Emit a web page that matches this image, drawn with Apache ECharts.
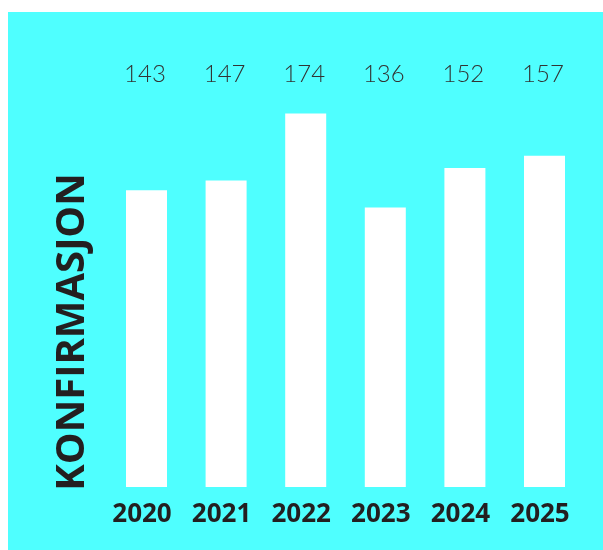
<!DOCTYPE html>
<html>
<head>
<meta charset="utf-8">
<script src="https://cdn.jsdelivr.net/npm/echarts@6/dist/echarts.min.js"></script>
<style>
html,body{margin:0;padding:0;background:#ffffff;}
#c{width:603px;height:550px;}
</style>
</head>
<body>
<div id="c"></div>
<script>
const years = ['2020', '2021', '2022', '2023', '2024', '2025'];
const values = [143, 147, 174, 136, 152, 157];
const valueLabels = ['143', '147', '174', '136', '152', '157'];
const axisTitle = 'KONFIRMASJON';

const chart = echarts.init(document.getElementById('c'));
chart.setOption({
  backgroundColor: '#ffffff',
  animation: false,
  graphic: [
    { type: 'rect', z: -10, shape: { x: 8, y: 12, width: 595, height: 538 }, style: { fill: '#4fffff' } },
    { type: 'text', x: 73, y: 332, rotation: Math.PI / 2, z: 10,
      style: { text: axisTitle, fill: '#231f20', font: 'bold 40px "Open Sans"', align: 'center', verticalAlign: 'middle' } }
  ],
  grid: { left: 106.7, right: 18.7, top: 79, bottom: 63 },
  xAxis: [
    { type: 'category', data: years, position: 'bottom',
      axisLine: { show: false }, axisTick: { show: false },
      axisLabel: { color: '#231f20', fontFamily: 'Open Sans', fontWeight: 'bold', fontSize: 26, margin: 15, padding: [0, 9, 0, 0] } },
    { type: 'category', data: valueLabels, position: 'top',
      axisLine: { show: false }, axisTick: { show: false },
      axisLabel: { color: '#333333', fontFamily: 'Lato', fontWeight: 300, fontSize: 24, margin: -7, padding: [0, 3, 0, 0] } }
  ],
  yAxis: { type: 'value', min: 23, max: 188, show: false, splitLine: { show: false } },
  series: [{
    type: 'bar', data: values, barWidth: 41, xAxisIndex: 0,
    itemStyle: { color: '#ffffff' }
  }]
});
</script>
</body>
</html>
